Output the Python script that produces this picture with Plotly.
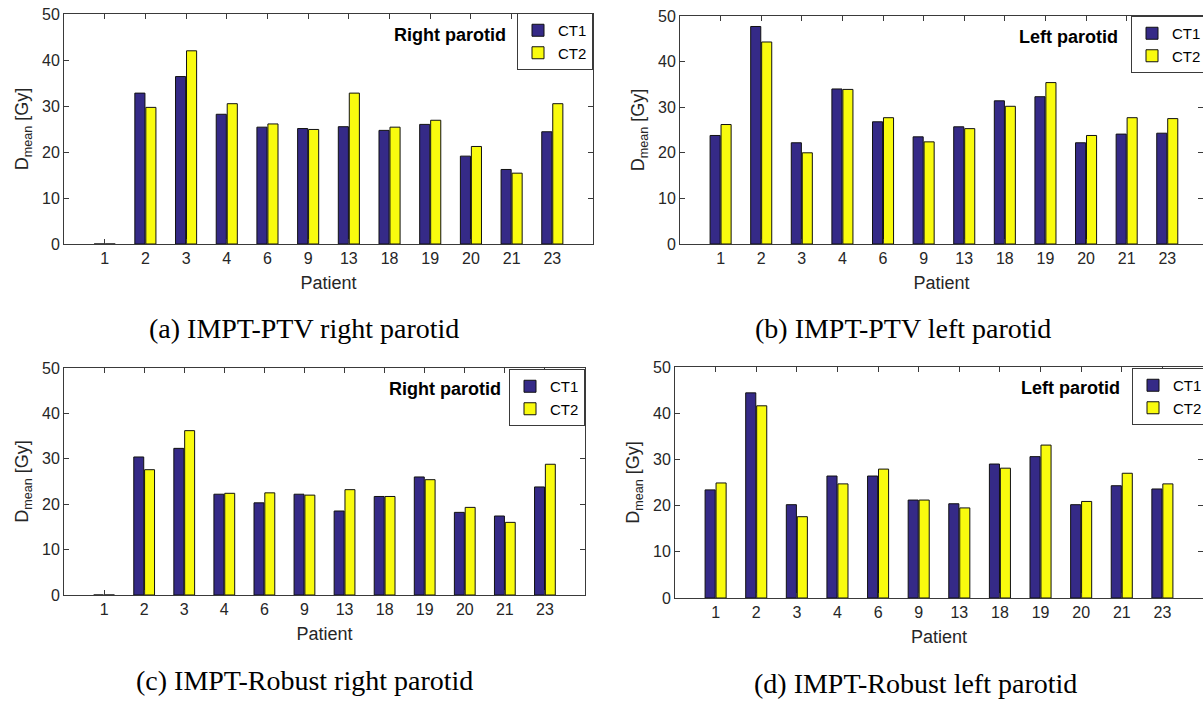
import plotly.graph_objects as go

W, H = 1203, 702

patients = ["1", "2", "3", "4", "6", "9", "13", "18", "19", "20", "21", "23"]

ptv_right_ct1 = [0.0, 32.8, 36.4, 28.2, 25.4, 25.1, 25.5, 24.7, 26.0, 19.1, 16.2, 24.4]
ptv_right_ct2 = [0.0, 29.7, 42.0, 30.5, 26.1, 24.9, 32.8, 25.4, 26.9, 21.2, 15.4, 30.5]

ptv_left_ct1 = [23.8, 47.7, 22.2, 34.0, 26.8, 23.5, 25.7, 31.4, 32.3, 22.2, 24.1, 24.3]
ptv_left_ct2 = [26.2, 44.3, 20.0, 33.9, 27.7, 22.4, 25.3, 30.2, 35.4, 23.8, 27.7, 27.5]

rob_right_ct1 = [0.0, 30.4, 32.3, 22.2, 20.3, 22.2, 18.5, 21.7, 26.0, 18.2, 17.4, 23.8]
rob_right_ct2 = [0.0, 27.6, 36.2, 22.4, 22.5, 22.0, 23.2, 21.7, 25.4, 19.3, 16.0, 28.8]

rob_left_ct1 = [23.4, 44.4, 20.2, 26.4, 26.4, 21.2, 20.4, 29.0, 30.6, 20.2, 24.3, 23.6]
rob_left_ct2 = [24.9, 41.6, 17.6, 24.7, 27.9, 21.2, 19.5, 28.1, 33.1, 20.9, 27.0, 24.7]

series_names = ["CT1", "CT2"]
y_ticks = [0, 10, 20, 30, 40, 50]

CT1_COLOR = "#352a87"
CT2_COLOR = "#f9fb0e"
AX_COLOR = "#3a3a3a"
TXT_COLOR = "#262626"
SANS = "Liberation Sans, Arial, sans-serif"
SERIF = "Liberation Serif, Times New Roman, serif"


def fx(x):
    return x / W


def fy(y):
    return 1 - y / H


panels = [
    dict(ct1=ptv_right_ct1, ct2=ptv_right_ct2, organ="Right parotid",
         caption="(a) IMPT-PTV right parotid",
         box=(64, 593, 14, 244), xr=[-1, 12],
         label_right=508, label_y=35,
         leg=dict(x=593, y=13, anchor="right"),
         cap=(304, 328)),
    dict(ct1=ptv_left_ct1, ct2=ptv_left_ct2, organ="Left parotid",
         caption="(b) IMPT-PTV left parotid",
         box=(680, 1203, 16, 244), xr=[-1, 11.88],
         label_right=1120, label_y=37,
         leg=dict(x=1131, y=16, anchor="left"),
         cap=(903, 328)),
    dict(ct1=rob_right_ct1, ct2=rob_right_ct2, organ="Right parotid",
         caption="(c) IMPT-Robust right parotid",
         box=(64, 585, 368, 595), xr=[-1, 12],
         label_right=503, label_y=389,
         leg=dict(x=585, y=369, anchor="right"),
         cap=(304, 680)),
    dict(ct1=rob_left_ct1, ct2=rob_left_ct2, organ="Left parotid",
         caption="(d) IMPT-Robust left parotid",
         box=(675, 1203, 367, 598), xr=[-1, 12.0],
         label_right=1122, label_y=388,
         leg=dict(x=1132, y=368, anchor="left"),
         cap=(915, 683)),
]

fig = go.Figure()
annotations = []
layout_extra = {}

for i, p in enumerate(panels, start=1):
    sfx = "" if i == 1 else str(i)
    legname = "legend" if i == 1 else f"legend{i}"
    for name, vals, col in [(series_names[0], p["ct1"], CT1_COLOR),
                            (series_names[1], p["ct2"], CT2_COLOR)]:
        fig.add_trace(go.Bar(
            x=patients, y=vals, name=name,
            marker=dict(color=col, line=dict(color="#111111", width=1)),
            xaxis=f"x{sfx}", yaxis=f"y{sfx}",
            legend=legname, showlegend=True,
            hovertemplate="Patient %{x}<br>%{y:.1f} Gy<extra>" + name + "</extra>",
        ))
    x0, x1, y0, y1 = p["box"]
    layout_extra[f"xaxis{sfx}"] = dict(
        domain=[fx(x0), fx(x1)], anchor=f"y{sfx}", type="category",
        range=p["xr"], showline=True, linecolor=AX_COLOR, linewidth=1,
        mirror="allticks", ticks="inside", ticklen=5, tickcolor=AX_COLOR,
        tickfont=dict(family=SANS, size=16, color=TXT_COLOR),
        title=dict(text="Patient", standoff=10,
                   font=dict(family=SANS, size=18, color=TXT_COLOR)),
        showgrid=False, zeroline=False, fixedrange=True, automargin=False,
    )
    layout_extra[f"yaxis{sfx}"] = dict(
        domain=[fy(y1), fy(y0)], anchor=f"x{sfx}", range=[0, 50],
        tickvals=y_ticks, showline=True, linecolor=AX_COLOR, linewidth=1,
        mirror="allticks", ticks="inside", ticklen=5, tickcolor=AX_COLOR,
        tickfont=dict(family=SANS, size=16, color=TXT_COLOR),
        title=dict(text="D<sub>mean</sub> [Gy]", standoff=8,
                   font=dict(family=SANS, size=18, color=TXT_COLOR)),
        showgrid=False, zeroline=False, fixedrange=True, automargin=False,
    )
    lg = p["leg"]
    layout_extra[legname] = dict(
        x=fx(lg["x"]), y=fy(lg["y"]), xref="paper", yref="paper",
        xanchor=lg["anchor"], yanchor="top",
        bgcolor="white", bordercolor=AX_COLOR, borderwidth=1,
        font=dict(family=SANS, size=15, color="#000000"),
        itemwidth=30, tracegroupgap=0, traceorder="normal",
    )
    annotations.append(dict(
        text="<b>" + p["organ"] + "</b>", x=fx(p["label_right"]), y=fy(p["label_y"]),
        xref="paper", yref="paper", xanchor="right", yanchor="middle",
        showarrow=False,
        font=dict(family=SANS, size=18, color="#000000"),
    ))
    annotations.append(dict(
        text=p["caption"], x=fx(p["cap"][0]), y=fy(p["cap"][1]),
        xref="paper", yref="paper", xanchor="center", yanchor="middle",
        showarrow=False,
        font=dict(family=SERIF, size=28, color="#000000"),
    ))

fig.update_layout(
    width=W, height=H,
    margin=dict(l=0, r=0, t=0, b=0, pad=0, autoexpand=False),
    paper_bgcolor="white", plot_bgcolor="white",
    barmode="group", bargap=0.46, bargroupgap=0.08,
    annotations=annotations,
    **layout_extra,
)

fig.write_html("out.html", config={"displayModeBar": False})
